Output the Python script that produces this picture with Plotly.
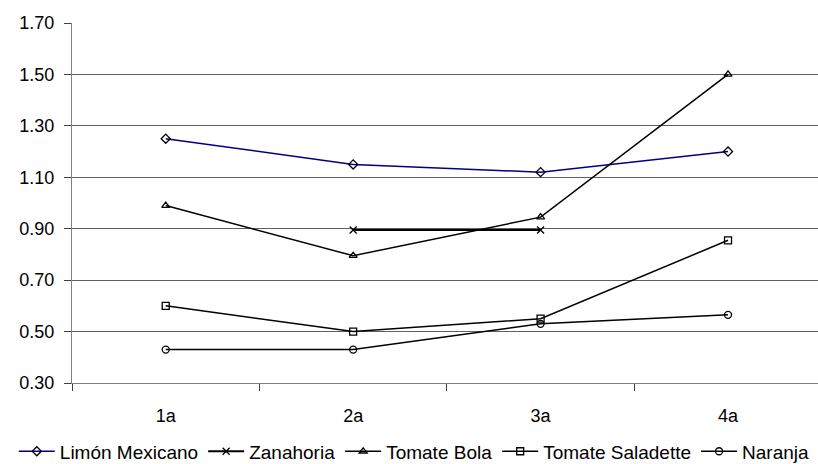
import plotly.graph_objects as go

# periods on the x axis
periodos = ["1a", "2a", "3a", "4a"]

# price series
limon_mexicano = [1.25, 1.15, 1.12, 1.20]
zanahoria = [None, 0.895, 0.895, None]
tomate_bola = [0.99, 0.795, 0.945, 1.50]
tomate_saladette = [0.60, 0.50, 0.55, 0.855]
naranja = [0.43, 0.43, 0.53, 0.565]

y_ticks = [0.30, 0.50, 0.70, 0.90, 1.10, 1.30, 1.50, 1.70]

series = [
    ("Limón Mexicano", limon_mexicano, "diamond-open", "#000080", 1.5),
    ("Zanahoria", zanahoria, "x-thin-open", "black", 2.2),
    ("Tomate Bola", tomate_bola, "triangle-up-open", "black", 1.5),
    ("Tomate Saladette", tomate_saladette, "square-open", "black", 1.5),
    ("Naranja", naranja, "circle-open", "black", 1.5),
]

fig = go.Figure()
for name, vals, symbol, color, width in series:
    fig.add_trace(go.Scatter(
        x=periodos,
        y=vals,
        name=name,
        mode="lines+markers",
        line=dict(color=color, width=width),
        marker=dict(symbol=symbol, size=7, color="black",
                    line=dict(color="black", width=1.3)),
        connectgaps=False,
    ))

fig.update_layout(
    width=818,
    height=464,
    paper_bgcolor="white",
    plot_bgcolor="white",
    font=dict(family="Liberation Sans, Arial, sans-serif", size=18, color="black"),
    margin=dict(l=72, r=0, t=23, b=81, autoexpand=False),
    showlegend=True,
    legend=dict(
        orientation="h",
        x=-0.078, xanchor="left",
        y=-0.19, yanchor="middle",
        font=dict(size=19),
        itemwidth=36,
        tracegroupgap=0,
    ),
)

fig.update_xaxes(
    type="category",
    range=[-0.5, 3.48],
    showgrid=False,
    showline=True,
    linecolor="#808080",
    linewidth=1,
    ticks="outside",
    tickson="boundaries",
    ticklen=7,
    tickcolor="#404040",
    ticklabelstandoff=16,
    zeroline=False,
    automargin=False,
)

fig.update_yaxes(
    range=[0.30, 1.70],
    tickvals=y_ticks,
    tickformat=".2f",
    showgrid=True,
    gridcolor="#606060",
    gridwidth=1,
    showline=True,
    linecolor="#808080",
    linewidth=1,
    ticks="outside",
    ticklen=7,
    tickcolor="#404040",
    ticklabelstandoff=6,
    zeroline=False,
    automargin=False,
)

# drop the browser's default body margin so the figure fills the window
fig.write_html(
    "out.html",
    config={"displayModeBar": False},
    post_script="document.body.style.margin='0';",
)
